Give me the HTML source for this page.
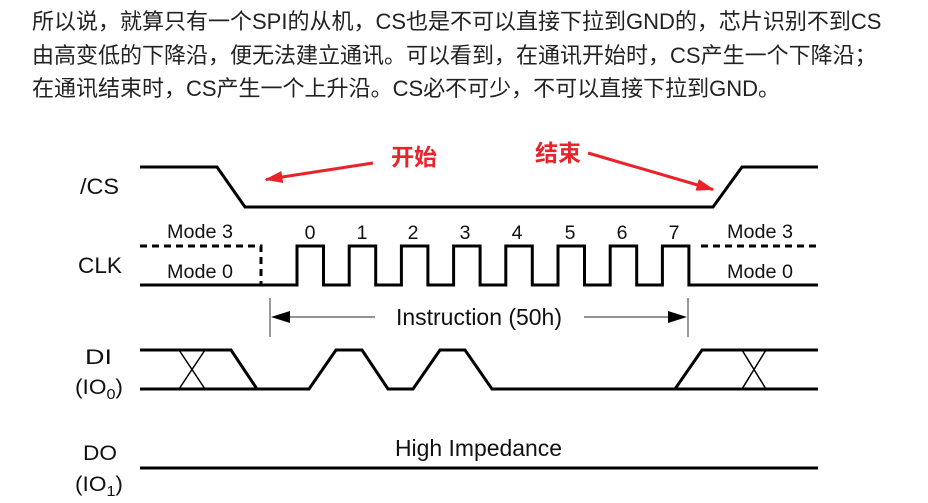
<!DOCTYPE html>
<html><head><meta charset="utf-8"><style>
html,body{margin:0;padding:0;background:#fff;}
body{width:928px;height:503px;position:relative;overflow:hidden;}
.p{position:absolute;left:32px;white-space:nowrap;font-family:"Liberation Sans","Noto Sans CJK SC",sans-serif;font-size:22px;color:#222;line-height:34px;}
svg{position:absolute;left:0;top:0;}
</style></head><body>
<div class="p" style="top:5px">所以说，就算只有一个SPI的从机，CS也是不可以直接下拉到GND的，芯片识别不到CS</div>
<div class="p" style="top:39px">由高变低的下降沿，便无法建立通讯。可以看到，在通讯开始时，CS产生一个下降沿；</div>
<div class="p" style="top:72px">在通讯结束时，CS产生一个上升沿。CS必不可少，不可以直接下拉到GND。</div>
<svg width="928" height="503" viewBox="0 0 928 503" xmlns="http://www.w3.org/2000/svg">
<defs>
<marker id="ra" markerWidth="6" markerHeight="4" refX="5.5" refY="2" orient="auto" markerUnits="strokeWidth">
<path d="M0,0 L6,2 L0,4 z" fill="#e8232a"/>
</marker>
</defs>
<g fill="none" stroke="#000" stroke-width="3" stroke-linejoin="miter">
<path d="M140,167 H217 L245,207 H713 L742,167 H818"/>
<path d="M140,285 H297 V246 H323.5 V285 H349.2 V246 H375.7 V285 H401.4 V246 H427.9 V285 H453.6 V246 H480.1 V285 H505.8 V246 H532.3 V285 H558 V246 H584.5 V285 H610.2 V246 H636.7 V285 H662.4 V246 H688.9 V285 H818"/>
<path d="M140,246 H261 V285" stroke-dasharray="7,5"/>
<path d="M701,246 H818" stroke-dasharray="7,5"/>
<path d="M140,389 H309 L336,350 H362 L388,389 H413 L440,350 H465 L492,389 H675 L702,350 H818"/>
<path d="M140,350 H231 L257,389"/>
<path d="M675,389 H818"/>
<path d="M140,468 H818"/>
</g>
<g stroke="#000" stroke-width="1.5" fill="none">
<path d="M179,350 L205,389 M179,389 L205,350"/>
<path d="M742,350 L766,389 M742,389 L766,350"/>
</g>
<g stroke="#555" stroke-width="1.2" fill="none">
<path d="M270,298 V337"/>
<path d="M688,298 V337"/>
<path d="M288,317 H375"/>
<path d="M584,317 H671"/>
</g>
<path d="M271,317 L290,311 L290,323 z" fill="#000"/>
<path d="M687,317 L668,311 L668,323 z" fill="#000"/>
<g stroke="#e8232a" stroke-width="3" fill="none">
<path d="M373,163 L266,179.5" marker-end="url(#ra)"/>
<path d="M588,153 L713,189.5" marker-end="url(#ra)"/>
</g>
<g font-family="'Liberation Sans','Noto Sans CJK SC',sans-serif" fill="#111">
<text x="80" y="194" font-size="22" textLength="39" lengthAdjust="spacingAndGlyphs">/CS</text>
<text x="78" y="273" font-size="22" textLength="44" lengthAdjust="spacingAndGlyphs">CLK</text>
<text x="167" y="238" font-size="19.5" textLength="66" lengthAdjust="spacingAndGlyphs">Mode 3</text>
<text x="167" y="278" font-size="19.5" textLength="66" lengthAdjust="spacingAndGlyphs">Mode 0</text>
<text x="727" y="238" font-size="19.5" textLength="66" lengthAdjust="spacingAndGlyphs">Mode 3</text>
<text x="727" y="278" font-size="19.5" textLength="66" lengthAdjust="spacingAndGlyphs">Mode 0</text>
<g font-size="19.5" text-anchor="middle">
<text x="310" y="239">0</text>
<text x="362" y="239">1</text>
<text x="413" y="239">2</text>
<text x="465" y="239">3</text>
<text x="517" y="239">4</text>
<text x="570" y="239">5</text>
<text x="622" y="239">6</text>
<text x="674" y="239">7</text>
</g>
<text x="396" y="325" font-size="23" textLength="166" lengthAdjust="spacingAndGlyphs">Instruction (50h)</text>
<text x="395" y="456" font-size="23" textLength="167" lengthAdjust="spacingAndGlyphs">High Impedance</text>
<text x="85" y="364" font-size="21" textLength="27" lengthAdjust="spacingAndGlyphs">DI</text>
<text x="75" y="394" font-size="21" textLength="48" lengthAdjust="spacingAndGlyphs">(IO<tspan font-size="15" dy="5">0</tspan><tspan dy="-5">)</tspan></text>
<text x="83" y="460" font-size="21" textLength="34" lengthAdjust="spacingAndGlyphs">DO</text>
<text x="75" y="491" font-size="21" textLength="48" lengthAdjust="spacingAndGlyphs">(IO<tspan font-size="15" dy="5">1</tspan><tspan dy="-5">)</tspan></text>
</g>
<g font-family="'Liberation Sans','Noto Sans CJK SC',sans-serif" font-weight="bold" font-size="23" fill="#e8232a">
<text x="391" y="165">开始</text>
<text x="535" y="161">结束</text>
</g>
</svg>
</body></html>
